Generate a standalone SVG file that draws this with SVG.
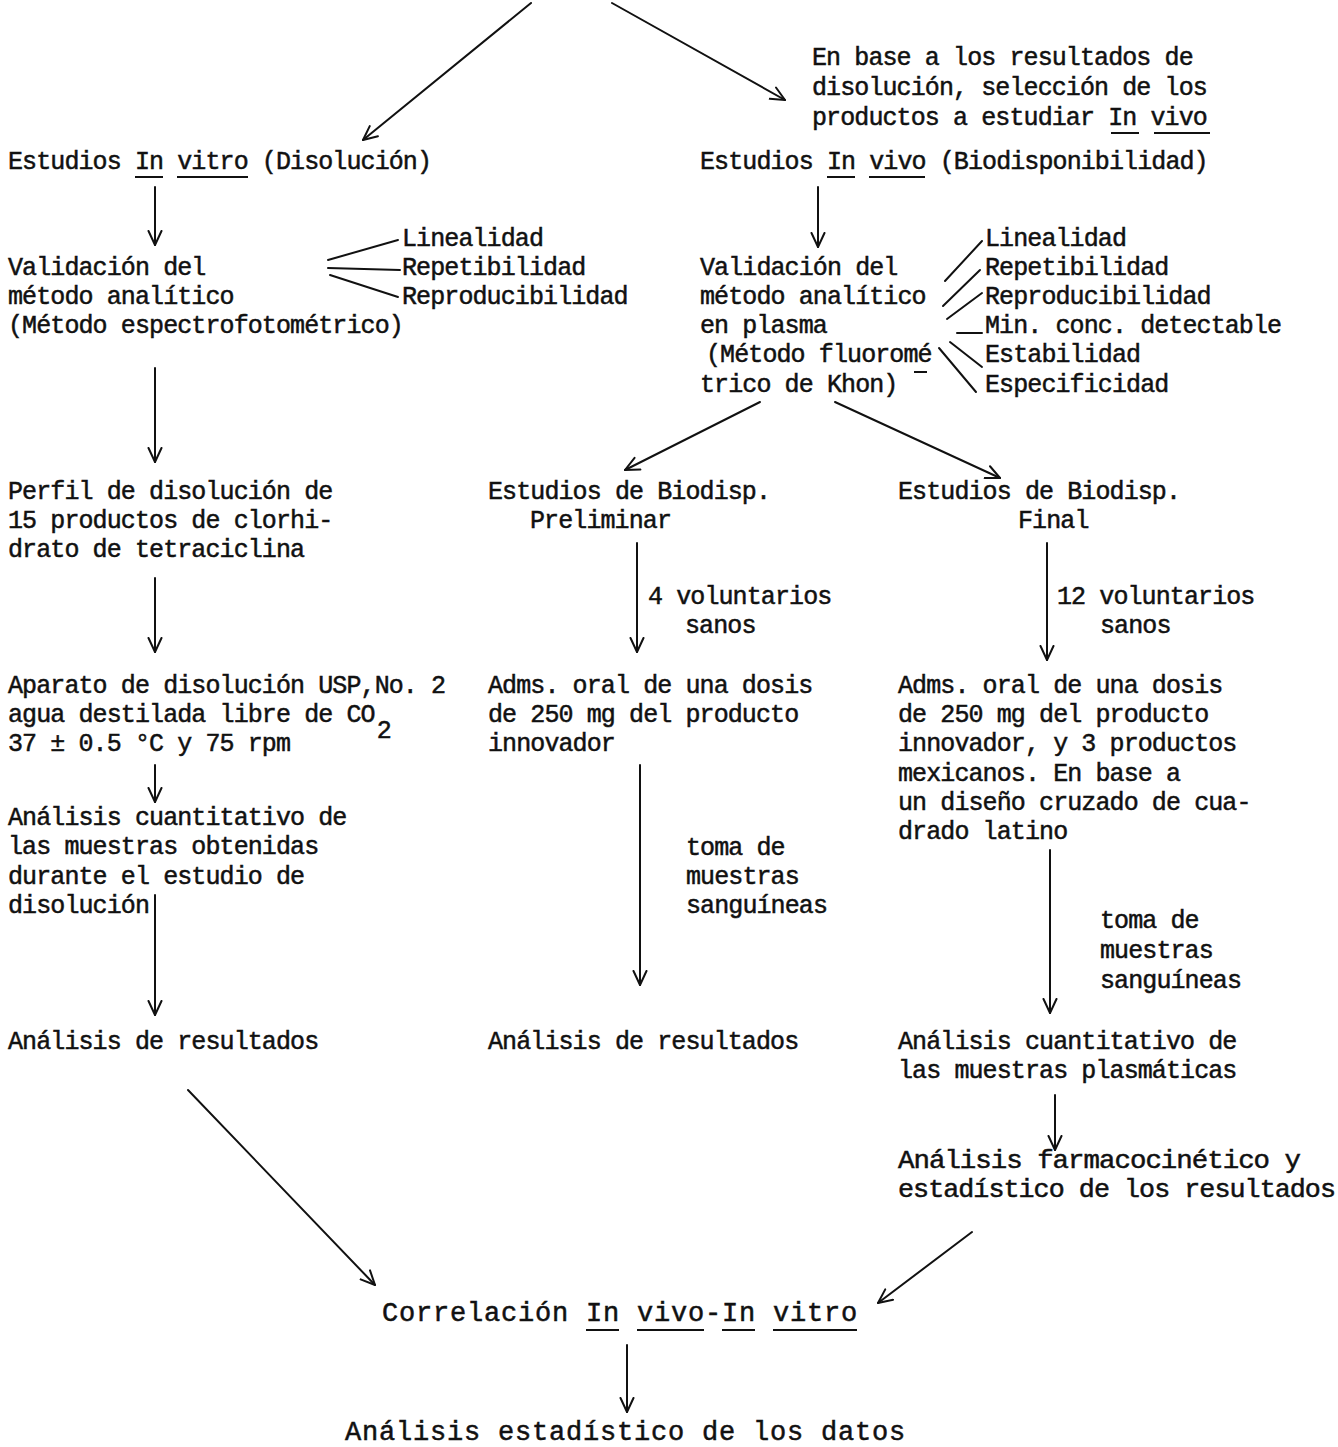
<svg xmlns="http://www.w3.org/2000/svg" width="1338" height="1447" viewBox="0 0 1338 1447">
<style>
text{font-family:"Liberation Mono","DejaVu Sans Mono",monospace;font-size:25px;letter-spacing:-0.9px;fill:#111;stroke:#111;stroke-width:0.5px}
.big{font-size:27px;letter-spacing:0.8px}
.c line,.c path{stroke:#111;stroke-width:2;fill:none;stroke-linecap:round}
.u{stroke:#111;stroke-width:2}
</style>
<defs>
<marker id="ah" viewBox="0 0 16 16" refX="15" refY="8" markerWidth="16" markerHeight="16" markerUnits="userSpaceOnUse" orient="auto">
<path d="M1,1.5 L15,8 L1,14.5" fill="none" stroke="#111" stroke-width="2" stroke-linecap="round" stroke-linejoin="round"/>
</marker>
</defs>
<rect width="1338" height="1447" fill="#fff"/>

<g id="n-seleccion">
<text x="812" y="65">En base a los resultados de</text>
<text x="812" y="95">disolución, selección de los</text>
<text x="812" y="125">productos a estudiar In vivo</text>
<line class="u" x1="1111" y1="133" x2="1139" y2="133"/>
<line class="u" x1="1154" y1="133" x2="1210" y2="133"/>
</g>

<g id="n-invitro">
<text x="8" y="169">Estudios In vitro (Disolución)</text>
<line class="u" x1="135" y1="177" x2="163" y2="177"/>
<line class="u" x1="177" y1="177" x2="248" y2="177"/>
</g>

<g id="n-invivo">
<text x="700" y="169">Estudios In vivo (Biodisponibilidad)</text>
<line class="u" x1="827" y1="177" x2="855" y2="177"/>
<line class="u" x1="869" y1="177" x2="925" y2="177"/>
</g>

<g id="n-valid-left">
<text x="8" y="275">Validación del</text>
<text x="8" y="304">método analítico</text>
<text x="8" y="333">(Método espectrofotométrico)</text>
</g>

<g id="n-params-left">
<text x="402" y="246">Linealidad</text>
<text x="402" y="275">Repetibilidad</text>
<text x="402" y="304">Reproducibilidad</text>
</g>

<g id="n-valid-right">
<text x="700" y="275">Validación del</text>
<text x="700" y="304">método analítico</text>
<text x="700" y="333">en plasma</text>
<text x="706" y="362">(Método fluoromé</text>
<text x="700" y="392">trico de Khon)</text>
<line class="u" x1="914" y1="372" x2="927" y2="372"/>
</g>

<g id="n-params-right">
<text x="985" y="246">Linealidad</text>
<text x="985" y="275">Repetibilidad</text>
<text x="985" y="304">Reproducibilidad</text>
<text x="985" y="333">Min. conc. detectable</text>
<text x="985" y="362">Estabilidad</text>
<text x="985" y="392">Especificidad</text>
</g>

<g id="n-perfil">
<text x="8" y="499">Perfil de disolución de</text>
<text x="8" y="528">15 productos de clorhi-</text>
<text x="8" y="557">drato de tetraciclina</text>
</g>

<g id="n-prelim">
<text x="488" y="499">Estudios de Biodisp.</text>
<text x="530" y="528">Preliminar</text>
</g>

<g id="n-final">
<text x="898" y="499">Estudios de Biodisp.</text>
<text x="1018" y="528">Final</text>
</g>

<g id="n-aparato">
<text x="8" y="693">Aparato de disolución USP,No. 2</text>
<text x="8" y="722">agua destilada libre de CO<tspan dx="2" dy="16">2</tspan></text>
<text x="8" y="751">37 ± 0.5 °C y 75 rpm</text>
</g>

<g id="n-adms-prelim">
<text x="488" y="693">Adms. oral de una dosis</text>
<text x="488" y="722">de 250 mg del producto</text>
<text x="488" y="751">innovador</text>
</g>

<g id="n-adms-final">
<text x="898" y="693">Adms. oral de una dosis</text>
<text x="898" y="722">de 250 mg del producto</text>
<text x="898" y="751">innovador, y 3 productos</text>
<text x="898" y="781">mexicanos.  En base a</text>
<text x="898" y="810">un diseño cruzado de cua-</text>
<text x="898" y="839">drado latino</text>
</g>

<g id="n-analisis-cuant-left">
<text x="8" y="825">Análisis cuantitativo de</text>
<text x="8" y="854">las muestras obtenidas</text>
<text x="8" y="884">durante el estudio de</text>
<text x="8" y="913">disolución</text>
</g>

<g id="n-res-left">
<text x="8" y="1049">Análisis de resultados</text>
</g>

<g id="n-res-mid">
<text x="488" y="1049">Análisis de resultados</text>
</g>

<g id="n-analisis-cuant-right">
<text x="898" y="1049">Análisis cuantitativo de</text>
<text x="898" y="1078">las muestras plasmáticas</text>
</g>

<g id="n-farmaco">
<text x="898" y="1168" textLength="402" lengthAdjust="spacingAndGlyphs">Análisis farmacocinético y</text>
<text x="898" y="1197" textLength="437" lengthAdjust="spacingAndGlyphs">estadístico de los resultados</text>
</g>

<g id="n-correlacion">
<text class="big" x="382" y="1321">Correlación In vivo-In vitro</text>
<line class="u" x1="586" y1="1330" x2="619" y2="1330"/>
<line class="u" x1="637" y1="1330" x2="704" y2="1330"/>
<line class="u" x1="722" y1="1330" x2="755" y2="1330"/>
<line class="u" x1="773" y1="1330" x2="857" y2="1330"/>
</g>

<g id="n-estadistico">
<text class="big" x="345" y="1440">Análisis estadístico de los datos</text>
</g>

<g id="labels">
<text x="648" y="604">4 voluntarios</text>
<text x="685" y="633">sanos</text>
<text x="1057" y="604">12 voluntarios</text>
<text x="1100" y="633">sanos</text>
<text x="686" y="855">toma de</text>
<text x="686" y="884">muestras</text>
<text x="686" y="913">sanguíneas</text>
<text x="1100" y="928">toma de</text>
<text x="1100" y="958">muestras</text>
<text x="1100" y="988">sanguíneas</text>
</g>

<g id="connectors" class="c">
<line x1="531" y1="3" x2="363" y2="140" marker-end="url(#ah)"/>
<line x1="612" y1="3" x2="785" y2="100" marker-end="url(#ah)"/>
<line x1="155" y1="187" x2="155" y2="245" marker-end="url(#ah)"/>
<line x1="818" y1="187" x2="818" y2="247" marker-end="url(#ah)"/>
<line x1="328" y1="260" x2="398" y2="240"/>
<line x1="328" y1="268" x2="400" y2="270"/>
<line x1="330" y1="275" x2="398" y2="297"/>
<line x1="945" y1="281" x2="982" y2="241"/>
<line x1="943" y1="306" x2="980" y2="270"/>
<line x1="947" y1="319" x2="982" y2="293"/>
<line x1="957" y1="333" x2="982" y2="333"/>
<line x1="950" y1="342" x2="982" y2="367"/>
<line x1="939" y1="348" x2="976" y2="392"/>
<line x1="155" y1="368" x2="155" y2="462" marker-end="url(#ah)"/>
<line x1="760" y1="402" x2="625" y2="470" marker-end="url(#ah)"/>
<line x1="835" y1="402" x2="1000" y2="478" marker-end="url(#ah)"/>
<line x1="155" y1="578" x2="155" y2="652" marker-end="url(#ah)"/>
<line x1="637" y1="543" x2="637" y2="652" marker-end="url(#ah)"/>
<line x1="1047" y1="543" x2="1047" y2="660" marker-end="url(#ah)"/>
<line x1="155" y1="765" x2="155" y2="802" marker-end="url(#ah)"/>
<line x1="640" y1="765" x2="640" y2="985" marker-end="url(#ah)"/>
<line x1="155" y1="895" x2="155" y2="1015" marker-end="url(#ah)"/>
<line x1="1050" y1="850" x2="1050" y2="1013" marker-end="url(#ah)"/>
<line x1="1055" y1="1095" x2="1055" y2="1150" marker-end="url(#ah)"/>
<line x1="188" y1="1090" x2="375" y2="1285" marker-end="url(#ah)"/>
<line x1="972" y1="1232" x2="878" y2="1303" marker-end="url(#ah)"/>
<line x1="627" y1="1345" x2="627" y2="1412" marker-end="url(#ah)"/>
</g>
</svg>
